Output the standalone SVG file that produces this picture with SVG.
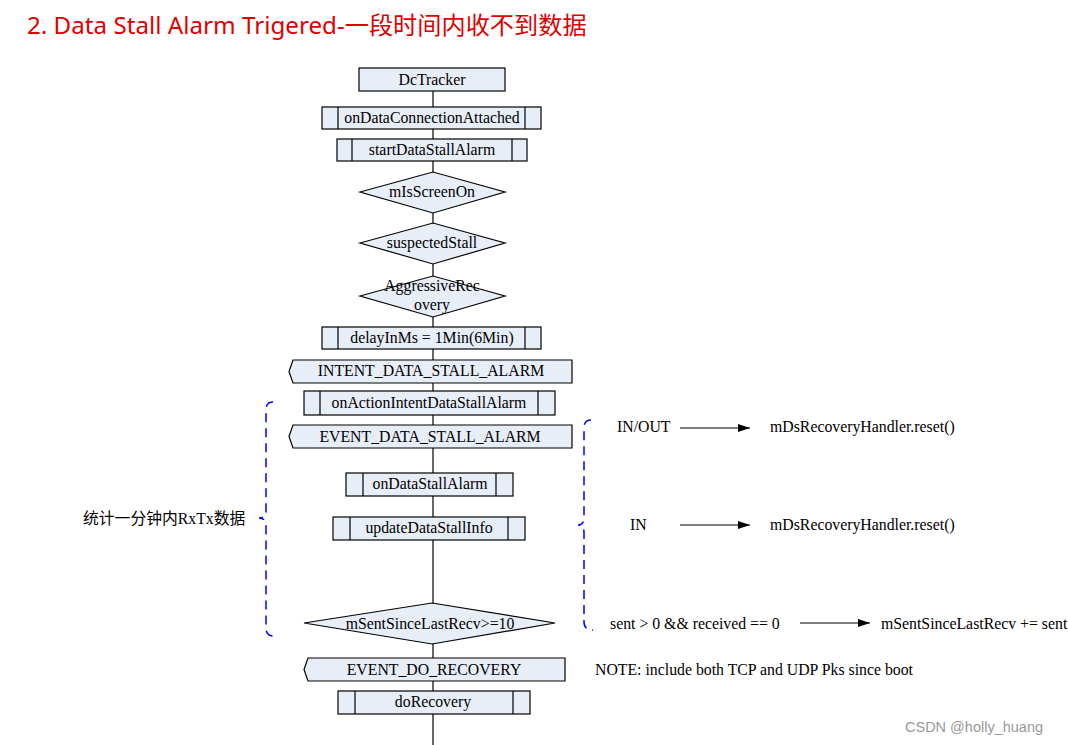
<svg xmlns="http://www.w3.org/2000/svg" width="1068" height="745" viewBox="0 0 1068 745">
<style>
.b{fill:#e8eef8;stroke:#000;stroke-width:1.2}
.l{stroke:#000;stroke-width:1.2;fill:none}
text{font-family:"Liberation Serif",serif;font-size:15.8px;fill:#000}
.c{text-anchor:middle}
.br{stroke:#0000ff;stroke-width:1.5;fill:none;stroke-dasharray:9 6}
</style>
<defs><marker id="a" markerWidth="12" markerHeight="8" refX="12" refY="4" orient="auto" markerUnits="userSpaceOnUse"><path d="M0,0L12,4L0,8z" fill="#000"/></marker></defs>
<rect width="1068" height="745" fill="#fff"/>
<text x="27" y="34" style="font-family:'Noto Sans','Noto Sans CJK SC',sans-serif;font-size:24.2px;fill:#e00000">2. Data Stall Alarm Trigered-一段时间内收不到数据</text>
<g id="connectors">
<line class="l" x1="433" y1="91" x2="433" y2="745"/>
<line class="l" x1="680" y1="428" x2="750" y2="428" marker-end="url(#a)"/>
<line class="l" x1="680" y1="525" x2="750" y2="525" marker-end="url(#a)"/>
<line class="l" x1="800" y1="623" x2="870" y2="623" marker-end="url(#a)"/>
</g>
<g id="n1"><rect class="b" x="359" y="68" width="146" height="23"/><text class="c" x="432" y="85">DcTracker</text></g>
<g id="n2"><rect class="b" x="322" y="107" width="219" height="22"/><path class="l" d="M338,107V129M525,107V129"/><text class="c" x="432" y="123">onDataConnectionAttached</text></g>
<g id="n3"><rect class="b" x="337" y="139" width="190" height="22"/><path class="l" d="M352,139V161M512,139V161"/><text class="c" x="432" y="155">startDataStallAlarm</text></g>
<g id="n4"><path class="b" d="M360,192L433,172L505,192L433,213z"/><text class="c" x="432" y="197">mIsScreenOn</text></g>
<g id="n5"><path class="b" d="M360,243L433,223L505,243L433,264z"/><text class="c" x="432" y="248">suspectedStall</text></g>
<g id="n6"><path class="b" d="M360,296L433,276L505,296L433,317z"/><text class="c" x="432" y="291">AggressiveRec</text><text class="c" x="432" y="310">overy</text></g>
<g id="n7"><rect class="b" x="322" y="327" width="219" height="22"/><path class="l" d="M338,327V349M525,327V349"/><text class="c" x="432" y="343">delayInMs = 1Min(6Min)</text></g>
<g id="n8"><path class="b" d="M293,360H572V383H293L289,371.5z"/><text class="c" x="431" y="376">INTENT_DATA_STALL_ALARM</text></g>
<g id="n9"><rect class="b" x="304" y="391" width="251" height="24"/><path class="l" d="M320,391V415M538,391V415"/><text class="c" x="429" y="408">onActionIntentDataStallAlarm</text></g>
<g id="n10"><path class="b" d="M293,425H572V448H293L289,436.5z"/><text class="c" x="430" y="442">EVENT_DATA_STALL_ALARM</text></g>
<g id="n11"><rect class="b" x="346" y="473" width="167" height="23"/><path class="l" d="M363,473V496M496,473V496"/><text class="c" x="430" y="489">onDataStallAlarm</text></g>
<g id="n12"><rect class="b" x="333" y="517" width="192" height="23"/><path class="l" d="M350,517V540M508,517V540"/><text class="c" x="429" y="533">updateDataStallInfo</text></g>
<g id="n13"><path class="b" d="M304,623L432,603L555,623L432,644z"/><text class="c" x="430" y="629">mSentSinceLastRecv&gt;=10</text></g>
<g id="n14"><path class="b" d="M308,658H565V681H308L304,669.5z"/><text class="c" x="434" y="675">EVENT_DO_RECOVERY</text></g>
<g id="n15"><rect class="b" x="338" y="691" width="192" height="23"/><path class="l" d="M355,691V714M513,691V714"/><text class="c" x="433" y="707">doRecovery</text></g>
<g id="braces">
<path class="br" d="M273,402Q266,402 266,410V510Q266,518 259,518Q266,518 266,526V628Q266,636 274,636"/>
<path class="br" d="M591,420Q584,420 584,428V517Q584,525 578,525Q584,525 584,533V622Q584,630 593,630"/>
</g>
<text x="83" y="524" style="font-family:'Liberation Serif','Noto Sans CJK SC',serif">统计一分钟内RxTx数据</text>
<text x="617" y="432">IN/OUT</text>
<text x="770" y="432">mDsRecoveryHandler.reset()</text>
<text x="630" y="530">IN</text>
<text x="770" y="530">mDsRecoveryHandler.reset()</text>
<text x="610" y="629">sent &gt; 0 &amp;&amp; received == 0</text>
<text x="881" y="629">mSentSinceLastRecv += sent</text>
<text x="595" y="675">NOTE: include both TCP and UDP Pks since boot</text>
<text x="905" y="732" style="font-family:'Liberation Sans',sans-serif;font-size:14.5px;fill:#999">CSDN @holly_huang</text>
</svg>
